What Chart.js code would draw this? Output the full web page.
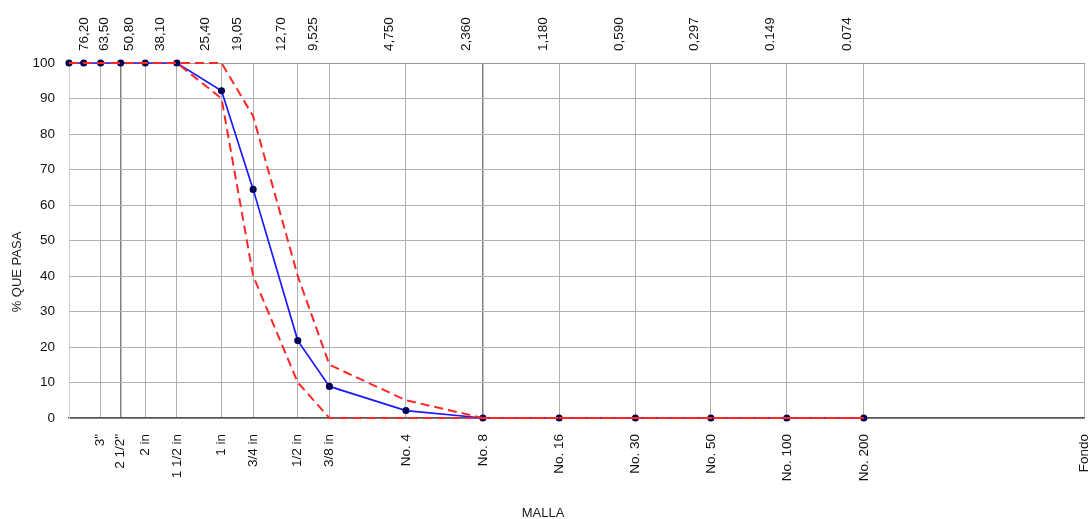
<!DOCTYPE html>
<html>
<head>
<meta charset="utf-8">
<script src="https://cdn.jsdelivr.net/npm/chart.js@4"></script>
<style>
html,body{margin:0;padding:0;background:#fff;}
#wrap{width:1091px;height:519px;}
</style>
</head>
<body>
<div id="wrap"><canvas id="granChart"></canvas></div>
<script>
// Sieve sizes (mm) for the curves
let sizes=[101.6,88.9,76.2,63.5,50.8,38.1,25.4,19.05,12.7,9.525,4.75,2.36,1.18,0.59,0.297,0.149,0.074];
// % passing
let passing=[100,100,100,100,100,100,92.2,64.4,21.8,8.9,2.1,0,0,0,0,0,0];
let upperLimit=[100,100,100,100,100,100,100,85,40,15,5,0,0,0,0,0,0];
let lowerLimit=[100,100,100,100,100,100,90,40,10,0,0,0,0,0,0,0,0];

// Axis ticks
let tickSizes=[76.2,63.5,50.8,38.1,25.4,19.05,12.7,9.525,4.75,2.36,1.18,0.59,0.297,0.149,0.074,0.01];
let topLabels=["76,20","63,50","50,80","38,10","25,40","19,05","12,70","9,525","4,750","2,360","1,180","0,590","0,297","0.149","0.074",""];
let bottomLabels=['3"','2 1/2"',"2 in","1 1/2 in","1 in","3/4 in","1/2 in","3/8 in","No. 4","No. 8","No. 16","No. 30","No. 50","No. 100","No. 200","Fondo"];
let yTicks=[0,10,20,30,40,50,60,70,80,90,100];

const font="'Liberation Sans', Arial, sans-serif";
const pts=a=>sizes.map((s,i)=>({x:s,y:a[i]}));

// Axis titles
const titles={id:"titles",afterDraw(c){
    let ctx=c.ctx; ctx.save(); ctx.fillStyle="#222"; ctx.font="13px "+font; ctx.textAlign="center"; ctx.textBaseline="middle";
    ctx.fillText("MALLA",543,513);
    ctx.translate(17,272); ctx.rotate(-Math.PI/2); ctx.fillText("% QUE PASA",0,0);
    ctx.restore();
}};

const dark=[63.5,2.36];
const noPad=s=>{s.paddingLeft=0;s.paddingRight=0;};
let ctx=document.getElementById("granChart").getContext("2d");
new Chart(ctx,{
    type:"line",
    data:{datasets:[
        {label:"Límite superior",data:pts(upperLimit),borderColor:"#ff2626",borderWidth:2,borderDash:[9,5],pointRadius:0,fill:false,clip:8,order:1},
        {label:"Límite inferior",data:pts(lowerLimit),borderColor:"#ff2626",borderWidth:2,borderDash:[9,5],pointRadius:0,fill:false,clip:8,order:1},
        {label:"% que pasa",data:pts(passing),borderColor:"#1a1aff",borderWidth:1.7,pointRadius:2.7,pointBackgroundColor:"#000050",pointBorderColor:"#000050",fill:false,clip:8,order:2}
    ]},
    options:{
        responsive:true,maintainAspectRatio:false,animation:false,
        layout:{padding:{left:0,right:7,top:0,bottom:0}},
        plugins:{legend:{display:false},tooltip:{enabled:false}},
        scales:{
            x:{type:"logarithmic",position:"bottom",reverse:true,min:0.01,max:101.6,
                afterBuildTicks:s=>{s.ticks=tickSizes.map(v=>({value:v}));},
                afterFit:s=>{s.height=101;noPad(s);},
                ticks:{autoSkip:false,minRotation:90,maxRotation:90,padding:16,color:"#111",font:{family:font,size:13.5},
                    callback:(v,i)=>bottomLabels[i]},
                grid:{color:c=>dark.includes(c.tick&&c.tick.value)?"#808080":"#b0b0b0",lineWidth:c=>dark.includes(c.tick&&c.tick.value)?1.5:1,drawTicks:false},
                border:{display:true,color:"#555",width:1.5}},
            x2:{type:"logarithmic",position:"top",reverse:true,min:0.01,max:101.6,
                afterBuildTicks:s=>{s.ticks=tickSizes.map(v=>({value:v}));},
                afterFit:s=>{s.height=63;noPad(s);},
                ticks:{autoSkip:false,minRotation:90,maxRotation:90,padding:12,color:"#111",font:{family:font,size:13.5},
                    callback:(v,i)=>topLabels[i]},
                grid:{display:false,drawTicks:false},
                border:{display:true,color:"#999",width:1}},
            y:{min:0,max:100,
                afterBuildTicks:s=>{s.ticks=yTicks.map(v=>({value:v}));},
                afterFit:s=>{s.width=69;s.paddingTop=0;s.paddingBottom=0;},
                ticks:{padding:14,color:"#111",font:{family:font,size:13.5}},
                grid:{color:"#b0b0b0",drawTicks:false},
                border:{display:true,color:"#d0d0d0",width:1}}
        }
    },
    plugins:[titles]
});
</script>
</body>
</html>
